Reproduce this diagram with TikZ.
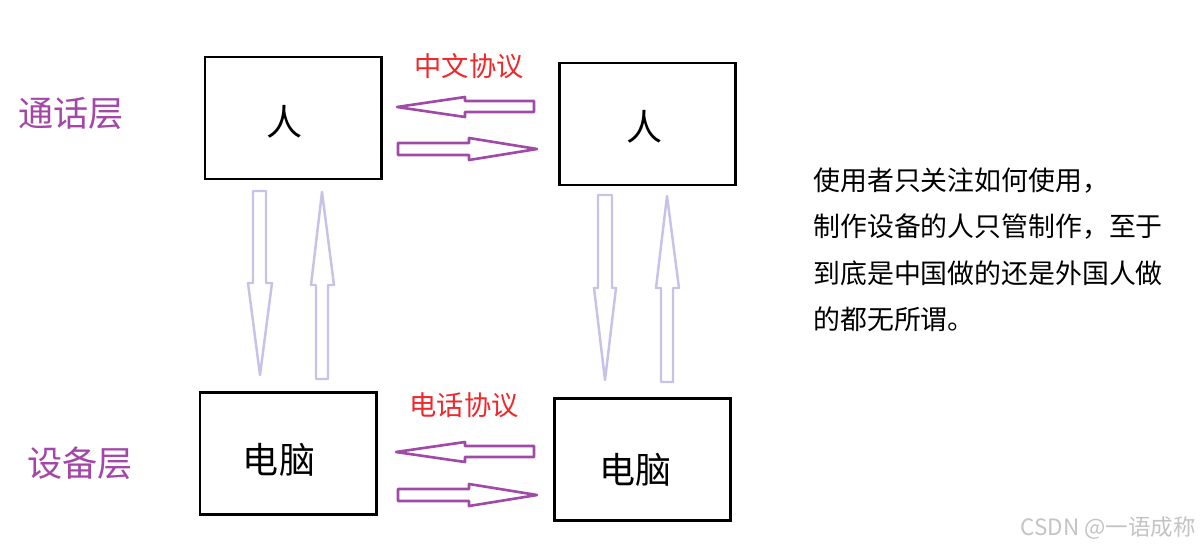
\documentclass[tikz,border=0pt]{standalone}
\usepackage{fontspec}
\setmainfont{Noto Sans CJK SC}
\definecolor{layerpurple}{HTML}{A445A8}
\definecolor{arrpurple}{HTML}{A04AA8}
\definecolor{lav}{HTML}{C8C2E8}
\definecolor{protored}{HTML}{F0282C}
\definecolor{wm}{HTML}{C4C4C4}
\tikzset{
  box/.style={draw=black, line width=1.7pt, minimum width=176*0.02cm, minimum height=122*0.02cm, inner sep=0pt},
  boxtext/.style={inner sep=0pt, font=\fontsize{20.5}{22}\selectfont},
  layer/.style={text=layerpurple, font=\fontsize{20}{22}\selectfont},
  proto/.style={text=protored, font=\fontsize{15.5}{18}\selectfont},
  harr/.style={draw=arrpurple, line width=1.5pt, line join=round, fill=white},
  varr/.style={draw=lav, line width=1.4pt, line join=round, fill=white},
  note/.style={align=left, anchor=north west, font=\fontsize{15.3}{26.5}\selectfont, inner sep=0pt}
}
\begin{document}
\begin{tikzpicture}[x=0.02cm, y=-0.02cm]
\fill[white] (0,0) rectangle (1202,548);
\useasboundingbox (0,0) rectangle (1202,548);
% boxes
\node[box] (p1) at (293,118) {};
\node[box] (p2) at (647,124) {};
\node[box] (c1) at (288,453) {};
\node[box] (c2) at (642.5,459.5) {};
\node[boxtext] (p1t) at (285,122) {人};
\node[boxtext] (p2t) at (644,127) {人};
\node[boxtext] (c1t) at (279,460) {电脑};
\node[boxtext] (c2t) at (635.5,470) {电脑};
% layer labels
\node[layer] (l1) at (71,113) {通话层};
\node[layer] (l2) at (80,463) {设备层};
% protocol labels
\node[proto] (t1) at (469,66) {中文协议};
\node[proto] (t2) at (464,405) {电话协议};
% horizontal arrows (top)
\draw[harr] (397,107) -- (465,97) -- (465,101) -- (534,101) -- (534,112) -- (465,112) -- (465,117) -- cycle;
\draw[harr] (537,149) -- (469,138) -- (469,143) -- (398,143) -- (398,155) -- (469,155) -- (469,160) -- cycle;
% horizontal arrows (bottom)
\draw[harr] (396,452) -- (465,442) -- (465,446) -- (534,446) -- (534,457) -- (465,457) -- (465,462) -- cycle;
\draw[harr] (537,495) -- (469,484) -- (469,489) -- (398,489) -- (398,501) -- (469,501) -- (469,506) -- cycle;
% vertical arrows (left)
\draw[varr] (260,375) -- (248,283) -- (253,283) -- (253,191) -- (266,191) -- (266,283) -- (272,283) -- cycle;
\draw[varr] (322,192) -- (311,285) -- (316,285) -- (316,379) -- (328,379) -- (328,285) -- (334,285) -- cycle;
% vertical arrows (right)
\draw[varr] (605,380) -- (594,288) -- (598,288) -- (598,195) -- (612,195) -- (612,288) -- (616,288) -- cycle;
\draw[varr] (667,196) -- (656,288) -- (661,288) -- (661,382) -- (673,382) -- (673,288) -- (679,288) -- cycle;
% note
\node[note] (n) at (813,167) {使用者只关注如何使用，\\制作设备的人只管制作，至于\\到底是中国做的还是外国人做\\的都无所谓。};
% watermark
\node[text=wm, font=\fontsize{12.8}{14}\selectfont, anchor=east, inner sep=0pt] (w) at (1196,528) {CSDN @一语成称};
\end{tikzpicture}
\end{document}
